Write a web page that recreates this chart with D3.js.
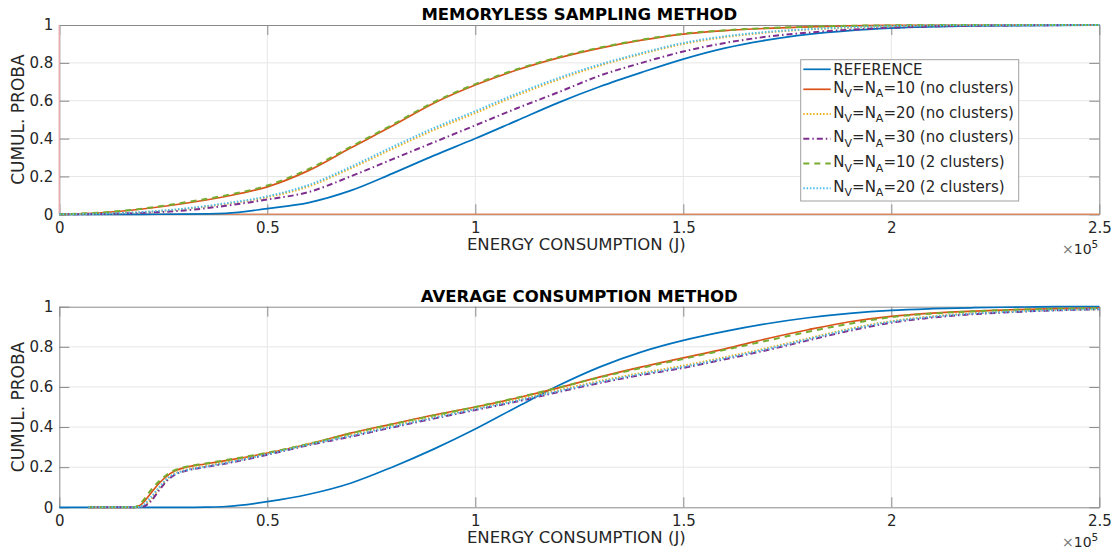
<!DOCTYPE html>
<html>
<head>
<meta charset="utf-8">
<script src="https://cdn.jsdelivr.net/npm/d3@7"></script>
<style>
  html, body { margin: 0; padding: 0; background: #fff; }
  svg { display: block; font-family: "DejaVu Sans", sans-serif; }
</style>
</head>
<body>
<svg id="chart" width="1116" height="554"></svg>
<script>
// ---------------- DATA ----------------
const xTicks = [0, 0.5, 1, 1.5, 2, 2.5];
const yTicks = [0, 0.2, 0.4, 0.6, 0.8, 1];
const xTickLabels = ["0", "0.5", "1", "1.5", "2", "2.5"];
const yTickLabels = ["0", "0.2", "0.4", "0.6", "0.8", "1"];

const titles = ["MEMORYLESS SAMPLING METHOD", "AVERAGE CONSUMPTION METHOD"];
const xLabel = "ENERGY CONSUMPTION (J)";
const yLabel = "CUMUL. PROBA";

const seriesNames = ["REFERENCE", "N_V=N_A=10 (no clusters)", "N_V=N_A=20 (no clusters)",
                     "N_V=N_A=30 (no clusters)", "N_V=N_A=10 (2 clusters)", "N_V=N_A=20 (2 clusters)"];

// energy (x 1e5 J)
const xTop = [0,0.1,0.2,0.3,0.4,0.5,0.6,0.7,0.8,0.9,1.0,1.1,1.2,1.3,1.4,1.5,1.6,1.7,1.8,1.9,2.0,2.2,2.5];
const topRef   = [0,0,0,0.001,0.005,0.03,0.062,0.125,0.215,0.31,0.4,0.495,0.59,0.675,0.75,0.82,0.878,0.92,0.95,0.97,0.983,0.995,1];
const topN10   = [0,0.008,0.028,0.057,0.094,0.145,0.232,0.35,0.466,0.587,0.683,0.762,0.826,0.878,0.92,0.952,0.97,0.982,0.99,0.995,0.998,1,1];
const topN20   = [0,0.003,0.011,0.028,0.055,0.09,0.148,0.242,0.345,0.445,0.535,0.628,0.712,0.786,0.847,0.9,0.936,0.96,0.976,0.986,0.993,0.999,1];
const topN30   = [0,0.002,0.008,0.02,0.045,0.078,0.118,0.2,0.29,0.38,0.47,0.56,0.645,0.733,0.8,0.86,0.905,0.938,0.96,0.975,0.986,0.996,1];
const topN10c2 = [0,0.009,0.03,0.062,0.1,0.152,0.24,0.356,0.472,0.592,0.688,0.766,0.83,0.881,0.922,0.954,0.972,0.984,0.991,0.996,0.998,1,1];
const topN20c2 = [0,0.003,0.012,0.03,0.058,0.095,0.155,0.25,0.355,0.455,0.545,0.637,0.72,0.792,0.852,0.905,0.94,0.963,0.978,0.988,0.994,0.999,1];
// extra guide lines seen in the upper panel
const topGuideVX = [0, 0], topGuideVY = [0, 1];
const topGuideHX = [0, 2.5], topGuideHY = [0, 0];

const xBot = [0,0.07,0.18,0.2,0.22,0.24,0.26,0.28,0.3,0.35,0.4,0.5,0.6,0.7,0.8,0.9,1.0,1.1,1.2,1.3,1.4,1.5,1.6,1.7,1.8,1.9,2.0,2.1,2.2,2.3,2.4,2.5];
const botRef   = [0,0,0,0,0,0,0,0,0,0.001,0.004,0.028,0.065,0.12,0.2,0.29,0.39,0.5,0.607,0.7,0.775,0.832,0.877,0.915,0.945,0.967,0.982,0.99,0.995,0.998,1,1];
const botN10   = [null,0,0,0.02,0.07,0.12,0.158,0.183,0.197,0.216,0.233,0.27,0.315,0.37,0.415,0.46,0.5,0.545,0.595,0.65,0.7,0.745,0.79,0.84,0.885,0.925,0.952,0.968,0.978,0.985,0.99,0.993];
const botN20   = [null,0,0,0.005,0.04,0.095,0.142,0.17,0.185,0.205,0.224,0.268,0.317,0.36,0.406,0.45,0.493,0.536,0.584,0.63,0.67,0.706,0.748,0.793,0.842,0.89,0.928,0.952,0.968,0.977,0.984,0.988];
const botN30   = [null,0,0,0.003,0.03,0.085,0.135,0.165,0.18,0.2,0.218,0.262,0.31,0.352,0.398,0.442,0.485,0.527,0.575,0.62,0.66,0.695,0.738,0.783,0.832,0.88,0.92,0.946,0.963,0.974,0.982,0.987];
const botN10c2 = [null,0,0,0.03,0.085,0.13,0.165,0.187,0.2,0.218,0.235,0.272,0.316,0.368,0.414,0.458,0.5,0.546,0.597,0.648,0.695,0.74,0.785,0.83,0.875,0.915,0.948,0.966,0.977,0.985,0.99,0.993];
const botN20c2 = [null,0,0,0.008,0.05,0.1,0.145,0.168,0.182,0.202,0.221,0.265,0.313,0.356,0.402,0.446,0.489,0.531,0.579,0.625,0.665,0.7,0.743,0.788,0.838,0.886,0.925,0.95,0.966,0.976,0.983,0.988];

// ---------------- STYLE ----------------
const styles = [
  {color: "#0072BD", width: 1.7, dash: null},
  {color: "#D95319", width: 1.7, dash: null},
  {color: "#EDB120", width: 2,   dash: "1.5,1.8"},
  {color: "#7E2F8E", width: 2,   dash: "6,3,1.5,3"},
  {color: "#77AC30", width: 2,   dash: "6,5"},
  {color: "#4DBEEE", width: 2,   dash: "1.5,1.8"}
];
const textColor = "#262626";
const axisColor = "#8a8a8a";
const gridColor = "#e6e6e6";

const svg = d3.select("#chart");
const L = 59.3, R = 1099.3;

const panels = [
  {top: 25, bottom: 214.3, title: titles[0], xs: xTop,
   ys: [topRef, topN10, topN20, topN30, topN10c2, topN20c2], guides: true, legend: true},
  {top: 306.7, bottom: 507.3, title: titles[1], xs: xBot,
   ys: [botRef, botN10, botN20, botN30, botN10c2, botN20c2], guides: false, legend: false}
];

panels.forEach(p => {
  const x = d3.scaleLinear().domain([0, 2.5]).range([L, R]);
  const y = d3.scaleLinear().domain([0, 1]).range([p.bottom, p.top]);
  const g = svg.append("g");

  // grid
  g.append("g").selectAll("line").data(xTicks.slice(1, -1)).join("line")
    .attr("x1", d => x(d)).attr("x2", d => x(d)).attr("y1", p.top).attr("y2", p.bottom)
    .attr("stroke", gridColor).attr("stroke-width", 1);
  g.append("g").selectAll("line").data(yTicks.slice(1, -1)).join("line")
    .attr("y1", d => y(d)).attr("y2", d => y(d)).attr("x1", L).attr("x2", R)
    .attr("stroke", gridColor).attr("stroke-width", 1);

  // axes
  const fmtX = (d, i) => xTickLabels[i];
  const fmtY = (d, i) => yTickLabels[i];
  const ax = g.append("g").attr("transform", `translate(0,${p.bottom})`)
    .call(d3.axisBottom(x).tickValues(xTicks).tickFormat(fmtX).tickSizeInner(-10).tickSizeOuter(0).tickPadding(8));
  const axT = g.append("g").attr("transform", `translate(0,${p.top})`)
    .call(d3.axisTop(x).tickValues(xTicks).tickFormat("").tickSizeInner(-10).tickSizeOuter(0));
  const ay = g.append("g").attr("transform", `translate(${L},0)`)
    .call(d3.axisLeft(y).tickValues(yTicks).tickFormat(fmtY).tickSizeInner(-10).tickSizeOuter(0).tickPadding(6));
  const ayR = g.append("g").attr("transform", `translate(${R},0)`)
    .call(d3.axisRight(y).tickValues(yTicks).tickFormat("").tickSizeInner(-10).tickSizeOuter(0));
  [ax, axT, ay, ayR].forEach(a => {
    a.select(".domain").attr("stroke", axisColor).attr("stroke-width", 1);
    a.selectAll(".tick line").attr("stroke", axisColor).attr("stroke-width", 1);
    a.selectAll("text").attr("fill", textColor).attr("font-size", 15).attr("font-family", "DejaVu Sans");
  });

  // guides (upper panel)
  const line = d3.line().defined(d => d[1] != null).x(d => x(d[0])).y(d => y(d[1])).curve(d3.curveMonotoneX);
  if (p.guides) {
    g.append("path").datum(topGuideHX.map((v, i) => [v, topGuideHY[i]])).attr("d", d3.line().x(d => x(d[0])).y(d => y(d[1])))
      .attr("stroke", "#d9875f").attr("stroke-width", 1.5).attr("fill", "none");
    g.append("path").datum(topGuideVX.map((v, i) => [v, topGuideVY[i]])).attr("d", d3.line().x(d => x(d[0])).y(d => y(d[1])))
      .attr("stroke", "#e8aab0").attr("stroke-width", 1.5).attr("fill", "none");
  }

  // series
  p.ys.forEach((ys, k) => {
    const pts = p.xs.map((v, i) => [v, ys[i]]);
    const s = styles[k];
    g.append("path").datum(pts).attr("d", line)
      .attr("fill", "none").attr("stroke", s.color).attr("stroke-width", s.width)
      .attr("stroke-dasharray", s.dash).attr("stroke-linejoin", "round");
  });

  // title
  g.append("text").attr("x", (L + R) / 2).attr("y", p.top - 5).attr("text-anchor", "middle")
    .attr("font-weight", "bold").attr("font-size", 16.5).attr("fill", "#000").text(p.title);
  // y label
  g.append("text").attr("transform", `translate(24,${(p.top + p.bottom) / 2}) rotate(-90)`)
    .attr("text-anchor", "middle").attr("font-size", 17).attr("fill", textColor).text(yLabel);
  // x label
  g.append("text").attr("x", (L + R) / 2 - 3).attr("y", p.bottom + 35.5).attr("text-anchor", "middle")
    .attr("font-size", 16.5).attr("fill", textColor).text(xLabel);
  // exponent
  const ex = g.append("text").attr("x", R - 1).attr("y", p.bottom + 40).attr("text-anchor", "end")
    .attr("font-size", 14).attr("fill", textColor);
  ex.append("tspan").attr("fill", "#777").text("×");
  ex.append("tspan").text("10");
  ex.append("tspan").attr("dy", -6).attr("font-size", 10.5).text("5");

  // legend
  if (p.legend) {
    const lg = g.append("g");
    lg.append("rect").attr("x", 800.7).attr("y", 59.7).attr("width", 218).attr("height", 141.3)
      .attr("fill", "#fff").attr("stroke", "#a0a0a0").attr("stroke-width", 1);
    const rowY = [69.3, 89.3, 114, 138.8, 163.5, 188.3];
    seriesNames.forEach((name, k) => {
      const s = styles[k];
      lg.append("line").attr("x1", 803.3).attr("x2", 830.7).attr("y1", rowY[k]).attr("y2", rowY[k])
        .attr("stroke", s.color).attr("stroke-width", s.width).attr("stroke-dasharray", s.dash);
      const t = lg.append("text").attr("x", 833.3).attr("y", rowY[k] + (k === 0 ? 6 : 3.5))
        .attr("font-size", 15).attr("fill", textColor);
      const m = name.match(/^N_V=N_A(.*)$/);
      if (!m) { t.text(name); }
      else {
        t.append("tspan").text("N");
        t.append("tspan").attr("dy", 4.5).attr("font-size", 11).text("V");
        t.append("tspan").attr("dy", -4.5).text("=N");
        t.append("tspan").attr("dy", 4.5).attr("font-size", 11).text("A");
        t.append("tspan").attr("dy", -4.5).text(m[1]);
      }
    });
  }
});
</script>
</body>
</html>
